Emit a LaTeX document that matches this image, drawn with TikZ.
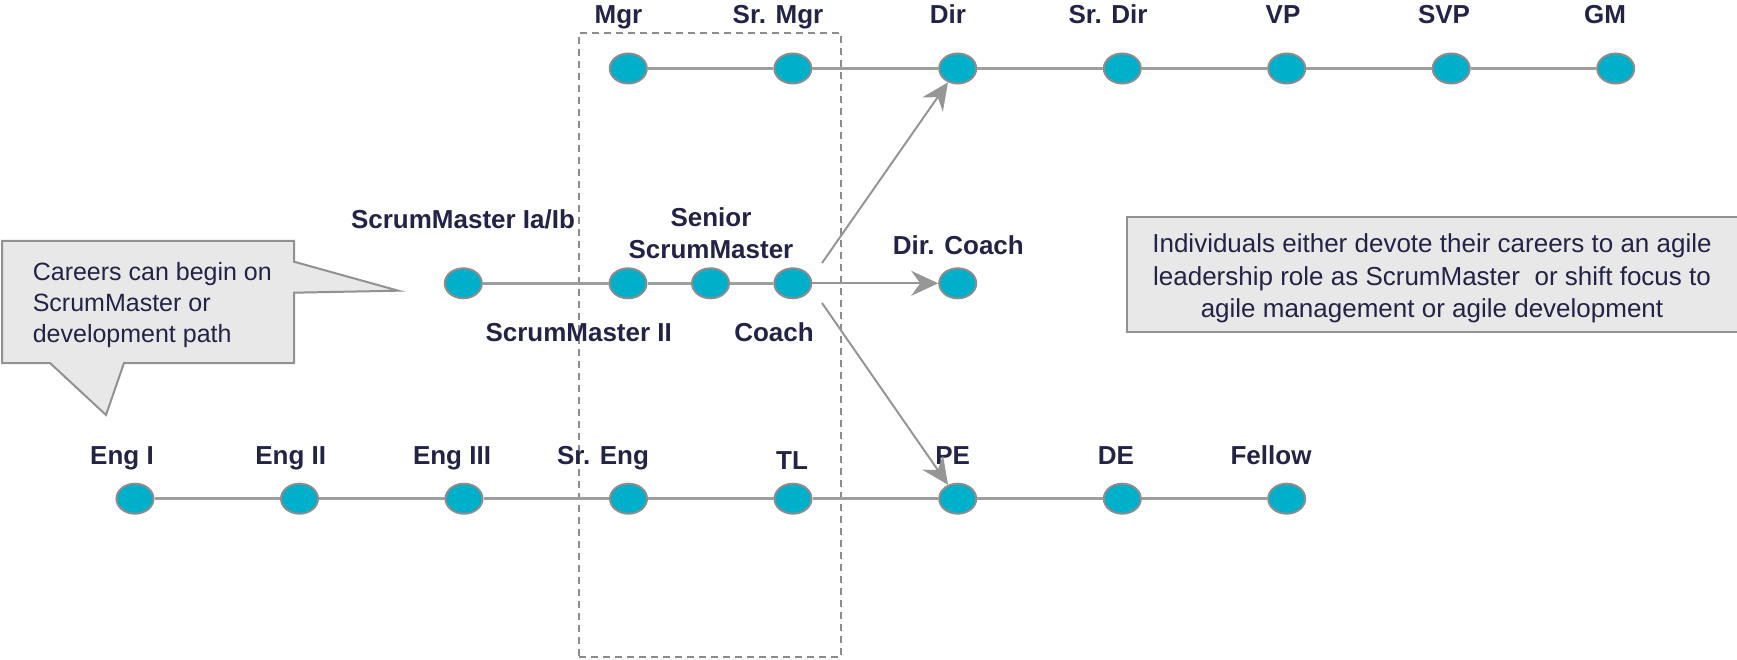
\documentclass[tikz,border=0pt]{standalone}
\usepackage{fontspec}
\setmainfont{Liberation Sans}
\usetikzlibrary{shapes.geometric,arrows.meta}
\definecolor{dot}{RGB}{0,175,202}
\definecolor{ring}{RGB}{140,140,140}
\definecolor{ink}{RGB}{35,35,70}
\definecolor{wire}{RGB}{158,158,158}
\definecolor{arrowc}{RGB}{150,150,150}
\definecolor{boxfill}{RGB}{232,232,232}
\definecolor{boxline}{RGB}{145,145,145}
\begin{document}
\begin{tikzpicture}[x=1pt,y=-1pt,
  role/.style={ellipse, draw=ring, line width=2pt, fill=dot, minimum width=37pt, minimum height=30pt, inner sep=0pt},
  lbl/.style={font=\fontsize{26}{28}\selectfont\bfseries, text=ink, inner sep=0pt, anchor=base},
  note/.style={font=\fontsize{26}{28}\selectfont, text=ink, inner sep=0pt},
  track/.style={draw=wire, line width=2.5pt},
  jump/.style={draw=arrowc, line width=2pt, -{Stealth[length=27pt,width=25pt,inset=9pt]}},
  focus/.style={draw=ring, line width=1.8pt, dash pattern=on 7pt off 5pt, inner sep=0pt}]
\useasboundingbox (0,0) rectangle (1737,660);

% dashed focus box
\node[focus, minimum width=262pt, minimum height=624pt] (band) at (710,345) {};

% callout (left)
\draw[fill=boxfill, draw=boxline, line width=2pt, line join=miter]
  (2,241) -- (294,241) -- (294,261.7) -- (398.3,290.7) -- (294,292.7) -- (294,363)
  -- (124,363) -- (106,415) -- (50,363) -- (2,363) -- cycle;
\node[note, font=\fontsize{25}{31}\selectfont, anchor=north west, align=left] (callout) at (32.6,262.5)
  {Careers can begin on\\ScrumMaster or\\development path};

% info box (right)
\fill[boxfill] (1127,217) rectangle (1740,332);
\draw[boxline, line width=2pt] (1742,217) -- (1127,217) -- (1127,332) -- (1742,332);
\node[note, font=\fontsize{26}{32.6}\selectfont, anchor=north, align=center] (info) at (1432,233.5)
  {Individuals either devote their careers to an agile\\leadership role as ScrumMaster\ \ or shift focus to\\agile management or agile development};

% top row
\node[role] (mgr)   at (628.3,68.5) {};
\node[role] (srmgr) at (792.8,68.5) {};
\node[role] (dir)   at (957.7,68.5) {};
\node[role] (srdir) at (1122.3,68.5) {};
\node[role] (vp)    at (1286.7,68.5) {};
\node[role] (svp)   at (1451.2,68.5) {};
\node[role] (gm)    at (1615.7,68.5) {};
\draw[track] (mgr) -- (srmgr) (srmgr) -- (dir) (dir) -- (srdir) (srdir) -- (vp) (vp) -- (svp) (svp) -- (gm);

\node[lbl] (lmgr)   at (618.5,24) {Mgr};
\node[lbl] (lsrmgr) at (778,24) {Sr. Mgr};
\node[lbl] (ldir)   at (948,24) {Dir};
\node[lbl] (lsrdir) at (1108,24) {Sr. Dir};
\node[lbl] (lvp)    at (1283,24) {VP};
\node[lbl] (lsvp)   at (1444,24) {SVP};
\node[lbl] (lgm)    at (1605,24) {GM};

% middle row
\node[role] (smi)    at (463.3,283.3) {};
\node[role] (smii)   at (628,283.3) {};
\node[role] (senior) at (710.5,283.3) {};
\node[role] (coach)  at (792.8,283.3) {};
\node[role] (dcoach) at (957.7,283.3) {};
\draw[track] (smi) -- (smii) (smii) -- (senior) (senior) -- (coach);

\node[lbl] (lsmi) at (463,228.3) {ScrumMaster Ia/Ib};
\node[lbl, anchor=north, align=center, font=\fontsize{26}{31.6}\selectfont\bfseries] (lsenior) at (711,207.7) {Senior\\ScrumMaster};
\node[lbl] (lsmii) at (578.7,341.7) {ScrumMaster II};
\node[lbl] (lcoach) at (774,341.7) {Coach};
\node[lbl] (ldcoach) at (958.3,255) {Dir. Coach};

% bottom row
\node[role] (e1)  at (135,498.7) {};
\node[role] (e2)  at (299.5,498.7) {};
\node[role] (e3)  at (464,498.7) {};
\node[role] (se)  at (628.5,498.7) {};
\node[role] (tl)  at (793,498.7) {};
\node[role] (pe)  at (957.7,498.7) {};
\node[role] (de)  at (1122.3,498.7) {};
\node[role] (fel) at (1286.7,498.7) {};
\draw[track] (e1) -- (e2) (e2) -- (e3) (e3) -- (se) (se) -- (tl) (tl) -- (pe) (pe) -- (de) (de) -- (fel);

\node[lbl] (le1)  at (122,464) {Eng I};
\node[lbl] (le2)  at (290.7,464) {Eng II};
\node[lbl] (le3)  at (452,464) {Eng III};
\node[lbl] (lse)  at (603,464) {Sr. Eng};
\node[lbl] (ltl)  at (792,469) {TL};
\node[lbl] (lpe)  at (952.7,464) {PE};
\node[lbl] (lde)  at (1116,464) {DE};
\node[lbl] (lfel) at (1271,464) {Fellow};

% branch arrows
\coordinate (up)   at (822,263);
\coordinate (down) at (822,303);
\draw[jump] (up) -- (dir);
\draw[jump] (coach) -- (dcoach);
\draw[jump] (down) -- (pe);
\end{tikzpicture}
\end{document}
